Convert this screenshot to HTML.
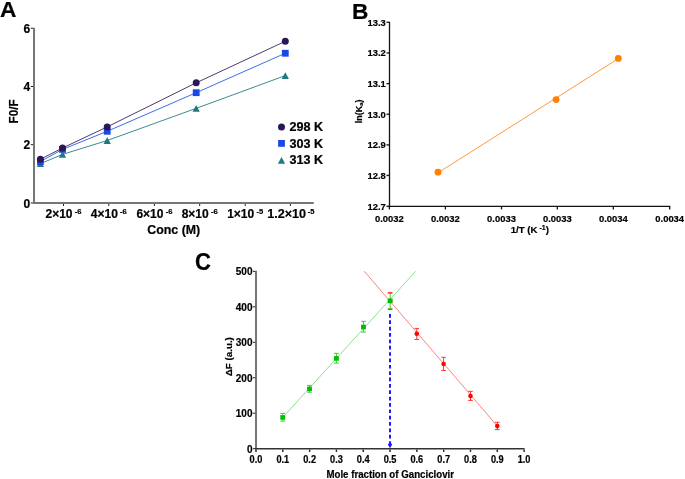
<!DOCTYPE html>
<html><head><meta charset="utf-8">
<style>
html,body{margin:0;padding:0;background:#fff;}
body{width:685px;height:479px;overflow:hidden;}
svg{display:block;will-change:transform;}
text{font-family:"Liberation Sans",sans-serif;font-weight:bold;fill:#000;stroke:#000;stroke-width:0.2px;}
</style></head><body>
<svg width="685" height="479" viewBox="0 0 685 479">
<rect width="685" height="479" fill="#fff"/>
<text id="A_title" x="0.0" y="16.9" font-size="22.7">A</text>
<g stroke="#767676" stroke-width="2" fill="none">
<line x1="34" y1="27.7" x2="34" y2="204"/>
<line x1="33" y1="203" x2="313.8" y2="203"/>
</g>
<g stroke="#1e1e1e" stroke-width="1" fill="none">
<line x1="30.8" y1="28.2" x2="33" y2="28.2"/>
<line x1="30.8" y1="86.5" x2="33" y2="86.5"/>
<line x1="30.8" y1="144.7" x2="33" y2="144.7"/>
<line x1="30.8" y1="203.0" x2="33" y2="203.0"/>
<line x1="63.5" y1="204" x2="63.5" y2="206"/>
<line x1="108.8" y1="204" x2="108.8" y2="206"/>
<line x1="154.4" y1="204" x2="154.4" y2="206"/>
<line x1="199.7" y1="204" x2="199.7" y2="206"/>
<line x1="245.2" y1="204" x2="245.2" y2="206"/>
<line x1="290.4" y1="204" x2="290.4" y2="206"/>
</g>
<g font-size="12" text-anchor="end">
<text id="A_y6" x="30.2" y="32.55">6</text>
<text id="A_y4" x="30.2" y="90.85">4</text>
<text id="A_y2" x="30.2" y="149.05">2</text>
<text id="A_y0" x="30.2" y="208.35">0</text>
</g>
<g font-size="12">
<text id="A_x0" x="63.5" y="217.9" text-anchor="middle">2×10<tspan font-size="7.6" dx="2.2" dy="-3.6">-6</tspan></text>
<text id="A_x1" x="108.8" y="217.9" text-anchor="middle">4×10<tspan font-size="7.6" dx="2.2" dy="-3.6">-6</tspan></text>
<text id="A_x2" x="154.4" y="217.9" text-anchor="middle">6×10<tspan font-size="7.6" dx="2.2" dy="-3.6">-6</tspan></text>
<text id="A_x3" x="199.7" y="217.9" text-anchor="middle">8×10<tspan font-size="7.6" dx="2.2" dy="-3.6">-6</tspan></text>
<text id="A_x4" x="245.2" y="217.9" text-anchor="middle">1×10<tspan font-size="7.6" dx="2.2" dy="-3.6">-5</tspan></text>
<text id="A_x5" x="290.79999999999995" y="217.9" text-anchor="middle"><tspan textLength="38.89" lengthAdjust="spacingAndGlyphs">1.2×10</tspan><tspan font-size="7.6" dx="1.6" dy="-3.6">-5</tspan></text>
</g>
<text id="A_xtitle" x="173.75" y="233.5" font-size="12" text-anchor="middle" textLength="52.86" lengthAdjust="spacingAndGlyphs">Conc (M)</text>
<text id="A_ytitle" transform="translate(17.9,111.35) rotate(-90)" font-size="12.2" text-anchor="middle" textLength="24.08" lengthAdjust="spacingAndGlyphs">F0/F</text>
<polyline fill="none" stroke="#4b3a6e" stroke-width="1" points="40.4,159.25 62.5,148.0 107.2,126.9 196.2,82.8 285.3,41.3"/>
<polyline fill="none" stroke="#3d6cf2" stroke-width="1" points="40.4,161.5 62.5,149.4 107.2,131.3 196.2,92.7 285.3,53.25"/>
<polyline fill="none" stroke="#3a8c92" stroke-width="1" points="40.4,163.7 62.5,154.4 107.2,140.5 196.2,108.35 285.3,75.6"/>
<g fill="#1f7a80">
<polygon points="36.80,167.10 44.00,167.10 40.40,160.30"/>
<polygon points="58.90,157.80 66.10,157.80 62.50,151.00"/>
<polygon points="103.60,143.90 110.80,143.90 107.20,137.10"/>
<polygon points="192.60,111.75 199.80,111.75 196.20,104.95"/>
<polygon points="281.70,79.00 288.90,79.00 285.30,72.20"/>
</g><g fill="#1a48e8">
<rect x="37.00" y="158.10" width="6.8" height="6.8"/>
<rect x="59.10" y="146.00" width="6.8" height="6.8"/>
<rect x="103.80" y="127.90" width="6.8" height="6.8"/>
<rect x="192.80" y="89.30" width="6.8" height="6.8"/>
<rect x="281.90" y="49.85" width="6.8" height="6.8"/>
</g><g fill="#2b1656">
<circle cx="40.4" cy="159.25" r="3.5"/>
<circle cx="62.5" cy="148.0" r="3.5"/>
<circle cx="107.2" cy="126.9" r="3.5"/>
<circle cx="196.2" cy="82.8" r="3.5"/>
<circle cx="285.3" cy="41.3" r="3.5"/>
</g>
<circle cx="281.5" cy="126.9" r="3.5" fill="#2b1656"/>
<rect x="278.1" y="140" width="6.8" height="6.8" fill="#1a48e8"/>
<polygon points="277.9,163.8 285.1,163.8 281.5,157" fill="#1f7a80"/>
<g font-size="12">
<text id="A_leg1" x="289.4" y="131.1" font-size="12" textLength="33.62" lengthAdjust="spacingAndGlyphs">298 K</text>
<text id="A_leg2" x="289.4" y="147.6" font-size="12" textLength="33.62" lengthAdjust="spacingAndGlyphs">303 K</text>
<text id="A_leg3" x="289.4" y="164.1" font-size="12" textLength="33.62" lengthAdjust="spacingAndGlyphs">313 K</text>
</g>
<text id="B_title" x="352.0" y="18.9" font-size="22.7">B</text>
<g stroke="#111" stroke-width="1.3" fill="none">
<line x1="389.5" y1="21.8" x2="389.5" y2="206.9"/>
<line x1="388.9" y1="206.4" x2="670.3" y2="206.4"/>
<line x1="386.5" y1="22.3" x2="389.5" y2="22.3"/>
<line x1="386.5" y1="52.95" x2="389.5" y2="52.95"/>
<line x1="386.5" y1="83.6" x2="389.5" y2="83.6"/>
<line x1="386.5" y1="114.25" x2="389.5" y2="114.25"/>
<line x1="386.5" y1="144.9" x2="389.5" y2="144.9"/>
<line x1="386.5" y1="175.45" x2="389.5" y2="175.45"/>
<line x1="386.5" y1="206.3" x2="389.5" y2="206.3"/>
<line x1="389.4" y1="206.4" x2="389.4" y2="209.4"/>
<line x1="445.4" y1="206.4" x2="445.4" y2="209.4"/>
<line x1="501.5" y1="206.4" x2="501.5" y2="209.4"/>
<line x1="557.3" y1="206.4" x2="557.3" y2="209.4"/>
<line x1="613.3" y1="206.4" x2="613.3" y2="209.4"/>
<line x1="669.7" y1="206.4" x2="669.7" y2="209.4"/>
</g>
<g font-size="9.5" text-anchor="end">
<text id="B_y13.3" x="385.8" y="25.70" font-size="9.8" text-anchor="end" textLength="18.31" lengthAdjust="spacingAndGlyphs">13.3</text>
<text id="B_y13.2" x="385.8" y="56.35" font-size="9.8" text-anchor="end" textLength="18.31" lengthAdjust="spacingAndGlyphs">13.2</text>
<text id="B_y13.1" x="385.8" y="87.00" font-size="9.8" text-anchor="end" textLength="18.31" lengthAdjust="spacingAndGlyphs">13.1</text>
<text id="B_y13.0" x="385.8" y="117.65" font-size="9.8" text-anchor="end" textLength="18.31" lengthAdjust="spacingAndGlyphs">13.0</text>
<text id="B_y12.9" x="385.8" y="148.30" font-size="9.8" text-anchor="end" textLength="18.31" lengthAdjust="spacingAndGlyphs">12.9</text>
<text id="B_y12.8" x="385.8" y="178.85" font-size="9.8" text-anchor="end" textLength="18.31" lengthAdjust="spacingAndGlyphs">12.8</text>
<text id="B_y12.7" x="385.8" y="209.70" font-size="9.8" text-anchor="end" textLength="18.31" lengthAdjust="spacingAndGlyphs">12.7</text>
</g>
<g font-size="9.2" text-anchor="middle">
<text id="B_x0" x="389.4" y="221.6" font-size="9.6" text-anchor="middle" textLength="28.78" lengthAdjust="spacingAndGlyphs">0.0032</text>
<text id="B_x1" x="445.4" y="221.6" font-size="9.6" text-anchor="middle" textLength="28.78" lengthAdjust="spacingAndGlyphs">0.0032</text>
<text id="B_x2" x="501.5" y="221.6" font-size="9.6" text-anchor="middle" textLength="28.78" lengthAdjust="spacingAndGlyphs">0.0033</text>
<text id="B_x3" x="557.3" y="221.6" font-size="9.6" text-anchor="middle" textLength="28.78" lengthAdjust="spacingAndGlyphs">0.0033</text>
<text id="B_x4" x="613.3" y="221.6" font-size="9.6" text-anchor="middle" textLength="28.78" lengthAdjust="spacingAndGlyphs">0.0034</text>
<text id="B_x5" x="669.7" y="221.6" font-size="9.6" text-anchor="middle" textLength="28.78" lengthAdjust="spacingAndGlyphs">0.0034</text>
</g>
<text id="B_xtitle" x="529.8" y="232.8" font-size="9.7" text-anchor="middle">1/T (K<tspan font-size="7" dx="1.9" dy="-2.9">-1</tspan><tspan dy="2.9">)</tspan></text>
<text id="B_ytitle" transform="translate(361.7,111.4) rotate(-90)" font-size="9" text-anchor="middle">ln(K<tspan font-size="6" dx="0.1" dy="0.8">a</tspan><tspan dy="-0.8">)</tspan></text>
<line x1="438" y1="172.8" x2="618.3" y2="58.6" stroke="#ff9a3a" stroke-width="1"/>
<g fill="#ff7f00">
<circle cx="438.0" cy="172.2" r="3.4"/>
<circle cx="556.1" cy="99.6" r="3.4"/>
<circle cx="618.3" cy="58.4" r="3.4"/>
</g>
<text id="C_title" x="194.9" y="269.8" font-size="24" textLength="15.95" lengthAdjust="spacingAndGlyphs">C</text>
<line x1="256" y1="270.8" x2="256" y2="449.6" stroke="#777" stroke-width="2"/>
<line x1="255" y1="448.75" x2="524.6" y2="448.75" stroke="#333" stroke-width="1.7"/>
<g stroke="#1e1e1e" stroke-width="1" fill="none">
<line x1="253" y1="271.32" x2="255.2" y2="271.32"/>
<line x1="253" y1="306.80" x2="255.2" y2="306.80"/>
<line x1="253" y1="342.27" x2="255.2" y2="342.27"/>
<line x1="253" y1="377.75" x2="255.2" y2="377.75"/>
<line x1="253" y1="413.22" x2="255.2" y2="413.22"/>
<line x1="253" y1="448.70" x2="255.2" y2="448.70"/>
<line x1="256.00" y1="449.6" x2="256.00" y2="451.9" stroke-width="1.4"/>
<line x1="282.81" y1="449.6" x2="282.81" y2="451.9" stroke-width="1.4"/>
<line x1="309.62" y1="449.6" x2="309.62" y2="451.9" stroke-width="1.4"/>
<line x1="336.43" y1="449.6" x2="336.43" y2="451.9" stroke-width="1.4"/>
<line x1="363.24" y1="449.6" x2="363.24" y2="451.9" stroke-width="1.4"/>
<line x1="390.05" y1="449.6" x2="390.05" y2="451.9" stroke-width="1.4"/>
<line x1="416.86" y1="449.6" x2="416.86" y2="451.9" stroke-width="1.4"/>
<line x1="443.67" y1="449.6" x2="443.67" y2="451.9" stroke-width="1.4"/>
<line x1="470.48" y1="449.6" x2="470.48" y2="451.9" stroke-width="1.4"/>
<line x1="497.29" y1="449.6" x2="497.29" y2="451.9" stroke-width="1.4"/>
<line x1="524.10" y1="449.6" x2="524.10" y2="451.9" stroke-width="1.4"/>
</g>
<g font-size="10" text-anchor="end">
<text id="C_y500" x="252.5" y="275.22">500</text>
<text id="C_y400" x="252.5" y="310.70">400</text>
<text id="C_y300" x="252.5" y="346.17">300</text>
<text id="C_y200" x="252.5" y="381.65">200</text>
<text id="C_y100" x="252.5" y="417.12">100</text>
<text id="C_y0" x="252.5" y="452.60">0</text>
</g>
<g font-size="9.6" text-anchor="middle">
<text id="C_x0" x="256.00" y="462.9" font-size="10" text-anchor="middle" textLength="12.79" lengthAdjust="spacingAndGlyphs">0.0</text>
<text id="C_x1" x="282.81" y="462.9" font-size="10" text-anchor="middle" textLength="12.79" lengthAdjust="spacingAndGlyphs">0.1</text>
<text id="C_x2" x="309.62" y="462.9" font-size="10" text-anchor="middle" textLength="12.79" lengthAdjust="spacingAndGlyphs">0.2</text>
<text id="C_x3" x="336.43" y="462.9" font-size="10" text-anchor="middle" textLength="12.79" lengthAdjust="spacingAndGlyphs">0.3</text>
<text id="C_x4" x="363.24" y="462.9" font-size="10" text-anchor="middle" textLength="12.79" lengthAdjust="spacingAndGlyphs">0.4</text>
<text id="C_x5" x="390.05" y="462.9" font-size="10" text-anchor="middle" textLength="12.79" lengthAdjust="spacingAndGlyphs">0.5</text>
<text id="C_x6" x="416.86" y="462.9" font-size="10" text-anchor="middle" textLength="12.79" lengthAdjust="spacingAndGlyphs">0.6</text>
<text id="C_x7" x="443.67" y="462.9" font-size="10" text-anchor="middle" textLength="12.79" lengthAdjust="spacingAndGlyphs">0.7</text>
<text id="C_x8" x="470.48" y="462.9" font-size="10" text-anchor="middle" textLength="12.79" lengthAdjust="spacingAndGlyphs">0.8</text>
<text id="C_x9" x="497.29" y="462.9" font-size="10" text-anchor="middle" textLength="12.79" lengthAdjust="spacingAndGlyphs">0.9</text>
<text id="C_x10" x="524.10" y="462.9" font-size="10" text-anchor="middle" textLength="12.79" lengthAdjust="spacingAndGlyphs">1.0</text>
</g>
<text id="C_xtitle" x="390.2" y="477.8" font-size="10.4" text-anchor="middle" textLength="127.6" lengthAdjust="spacingAndGlyphs">Mole fraction of Ganciclovir</text>
<text id="C_ytitle" transform="translate(232.3,356.7) rotate(-90)" font-size="9.8" text-anchor="middle">ΔF (a.u.)</text>
<line x1="282.75" y1="417.45" x2="415.7" y2="271.2" stroke="#8fe08f" stroke-width="1"/>
<line x1="364.2" y1="271.2" x2="497.3" y2="426" stroke="#ff8080" stroke-width="1"/>
<line x1="390" y1="314" x2="390" y2="440" stroke="#1a1aff" stroke-width="2" stroke-dasharray="3.7 2.66"/>
<polygon points="389,441.3 391,441.3 391,443.3 392.2,444.6 390,448.3 387.8,444.6 389,443.3" fill="#1a1aff"/>
<g stroke="#ff3030" stroke-width="1" fill="none">
<path d="M387.84999999999997,292.4H392.45M387.84999999999997,309.5H392.45"/>
<path d="M416.8,328.4V339.5M414.5,328.4H419.1M414.5,339.5H419.1"/>
<path d="M443.6,357.3V370.5M441.3,357.3H445.90000000000003M441.3,370.5H445.90000000000003"/>
<path d="M470.5,391.35V400.4M468.2,391.35H472.8M468.2,400.4H472.8"/>
<path d="M497.3,422.3V429.6M495.0,422.3H499.6M495.0,429.6H499.6"/>
</g><g fill="#ff0000">
<circle cx="390.15" cy="300.85" r="2.3"/>
<circle cx="416.8" cy="333.8" r="2.3"/>
<circle cx="443.6" cy="364" r="2.3"/>
<circle cx="470.5" cy="396" r="2.3"/>
<circle cx="497.3" cy="426" r="2.3"/>
</g><g stroke="#3ccc3c" stroke-width="1" fill="none">
<path d="M282.75,413.4V421.1M280.35,413.4H285.15M280.35,421.1H285.15"/>
<path d="M309.5,385.4V392.2M307.1,385.4H311.9M307.1,392.2H311.9"/>
<path d="M336.4,353.35V363.1M334.0,353.35H338.79999999999995M334.0,363.1H338.79999999999995"/>
<path d="M363.45,321.35V332.1M361.05,321.35H365.84999999999997M361.05,332.1H365.84999999999997"/>
<path d="M390.15,293.5V308.4M387.75,293.5H392.54999999999995M387.75,308.4H392.54999999999995"/>
</g><g fill="#00bf00">
<rect x="280.30" y="415.15" width="4.9" height="4.6"/>
<rect x="307.05" y="386.60" width="4.9" height="4.6"/>
<rect x="333.95" y="356.10" width="4.9" height="4.6"/>
<rect x="361.00" y="324.70" width="4.9" height="4.6"/>
<rect x="387.70" y="298.55" width="4.9" height="4.6"/>
</g>
</svg>
</body></html>
